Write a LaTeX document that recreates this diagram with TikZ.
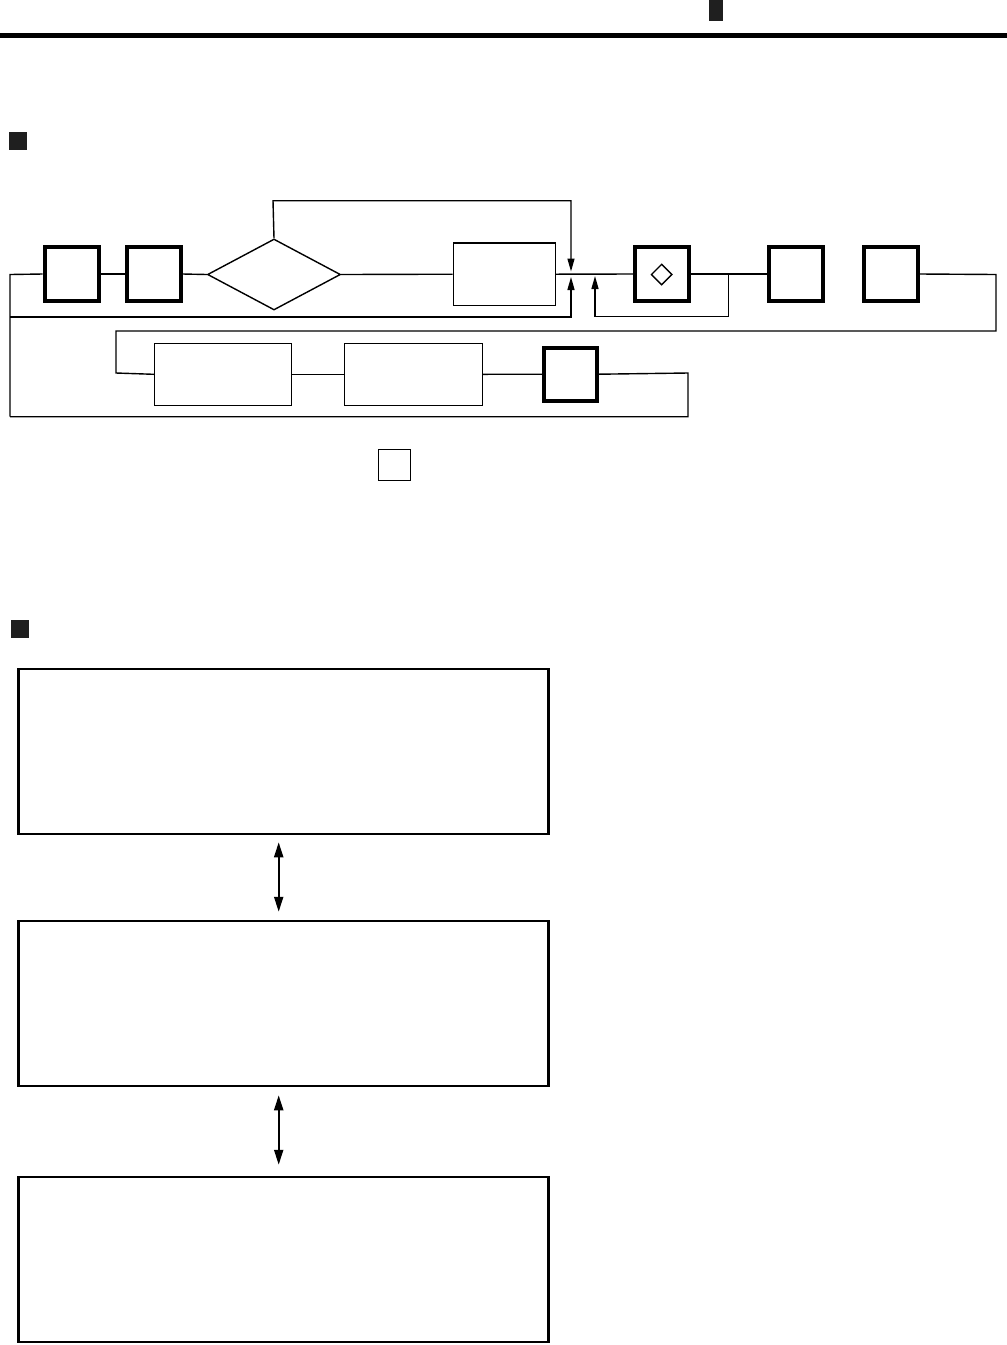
\documentclass[tikz,border=0pt]{standalone}
\usetikzlibrary{shapes.geometric,arrows.meta}
\begin{document}
\begin{tikzpicture}[x=1pt,y=-1pt,
  thinbox/.style={draw,line width=1.4pt,inner sep=0pt},
  thickbox/.style={draw,line width=4pt,inner sep=0pt,minimum width=54pt,minimum height=54pt},
  bigbox/.style={draw,line width=2.5pt,inner sep=0pt,minimum width=530pt,minimum height=165pt},
  link/.style={line width=1.4pt},
  tip/.style={link,-{Triangle[length=13pt,width=7pt]}},
  dbl/.style={line width=2.2pt,{Triangle[length=15pt,width=9pt]}-{Triangle[length=15pt,width=9pt]}},
  marker/.style={fill=black!88,draw=none}]
\useasboundingbox (0,0) rectangle (1007,1345);
% header
\fill[black!88] (709,0) rectangle (723,21);
\draw[line width=4.5pt] (0,35.7) -- (1007,35.7);
\fill[marker] (9,132) rectangle (27,150);
\fill[marker] (11,620) rectangle (29,638);
% flowchart nodes
\node[thickbox] (b1) at (71.7,274) {};
\node[thickbox] (b2) at (153.5,274) {};
\node[draw,diamond,line width=1.4pt,inner sep=0pt,minimum width=133pt,minimum height=71pt] (d) at (274,274.5) {};
\node[thinbox,minimum width=102pt,minimum height=62.5pt] (r) at (504.3,274.2) {};
\node[thickbox] (b6) at (662,274) {};
\node[draw,diamond,line width=1.4pt,inner sep=0pt,minimum width=21pt,minimum height=21pt] (sd) at (661.7,274.5) {};
\node[thickbox] (b7) at (796,274) {};
\node[thickbox] (b8) at (891,274) {};
\node[thinbox,minimum width=137pt,minimum height=62pt] (b3) at (223,374.3) {};
\node[thinbox,minimum width=138pt,minimum height=62pt] (b4) at (413.5,374.3) {};
\node[draw,line width=4pt,inner sep=0pt,minimum width=53pt,minimum height=53pt] (b5) at (570.3,374.2) {};
\node[draw,line width=1.2pt,inner sep=0pt,minimum width=32pt,minimum height=31pt] (sq) at (394.8,465.3) {};
% coordinates
\coordinate (jn) at (571,274.5);
\coordinate (jn2) at (595,274.5);
% main line
\draw[link] (10,416.7) -- (10,274.5) -- (b1.west);
\draw[link] (b1.east) -- (b2.west);
\draw[link] (b2.east) -- (d.west);
\draw[link] (d.east) -- (r.west);
\draw[link] (r.east) -- (b6.west);
\draw[link] (b6.east) -- (b7.west);
\draw[link] (b8.east) -- (996,274.5) -- (996,331) -- (116,331) -- (116,373) -- (b3.west);
\draw[link] (b3.east) -- (b4.west);
\draw[link] (b4.east) -- (b5.west);
\draw[link] (b5.east) -- (688,373) -- (688,416.7) -- (10,416.7);
% feedback arrows
\draw[tip] (d.north) -- (273,200.7) -- (571,200.7) -- ([yshift=3pt]jn);
\draw[tip] (10,317) -- (571,317) -- ([yshift=-2.5pt]jn);
\draw[tip] (728.3,274.5) -- (728.3,316.7) -- (595,316.7) -- ([yshift=-1.5pt]jn2);
% bottom boxes
\node[bigbox] (A) at (283.7,751.5) {};
\node[bigbox] (B) at (283.7,1003.5) {};
\node[bigbox] (C) at (283.7,1259.5) {};
\draw[dbl] ([xshift=-5pt,yshift=-7pt]A.south) -- ([xshift=-5pt,yshift=8pt]B.north);
\draw[dbl] ([xshift=-5pt,yshift=-8pt]B.south) -- ([xshift=-5pt,yshift=11pt]C.north);
\end{tikzpicture}
\end{document}
